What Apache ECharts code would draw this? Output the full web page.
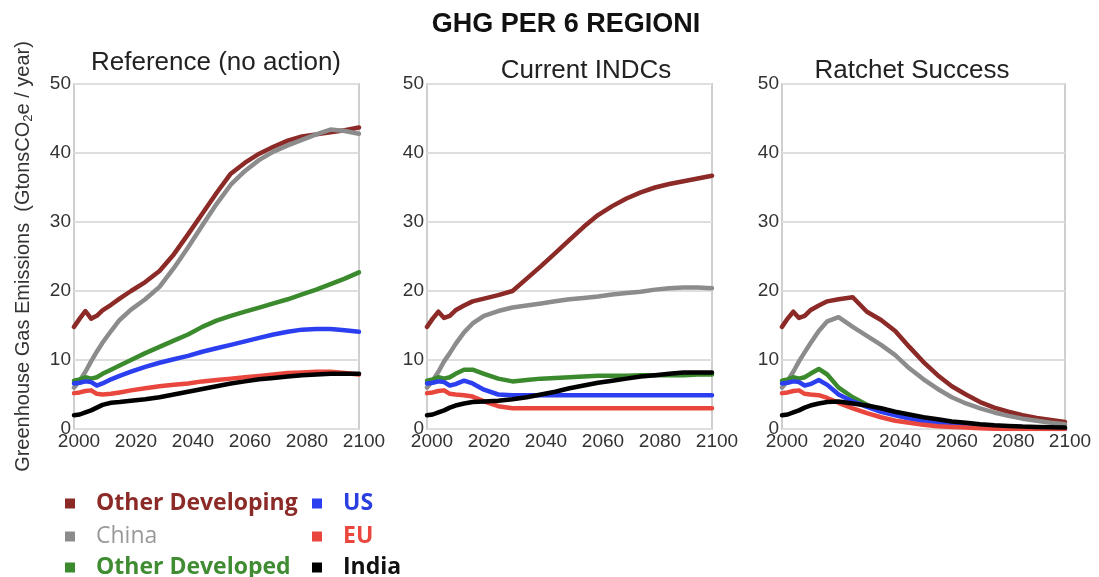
<!DOCTYPE html>
<html>
<head>
<meta charset="utf-8">
<title>GHG PER 6 REGIONI</title>
<script src="https://cdn.jsdelivr.net/npm/echarts@6/dist/echarts.min.js"></script>
<style>
  html, body { margin: 0; padding: 0; background: #fff; }
  #chart { width: 1099px; height: 577px; }
</style>
</head>
<body>
<div id="chart"></div>
<script>
// Sample years shared by every scenario (denser in the early years)
const years = [2000, 2002, 2004, 2006, 2008, 2010, 2013, 2016, 2020, 2025, 2030, 2035, 2040,
  2045, 2050, 2055, 2060, 2065, 2070, 2075, 2080, 2085, 2090, 2095, 2100];

const regions = ['Other Developing', 'China', 'Other Developed', 'US', 'EU', 'India'];
const panelTitles = ['Reference (no action)', 'Current INDCs', 'Ratchet Success'];
const xTicks = [2000, 2020, 2040, 2060, 2080, 2100];
const yTicks = [0, 10, 20, 30, 40, 50];

// Reference (no action), GtCO2e / year
const refOtherDeveloping = [14.8, 16.0, 17.1, 16.0, 16.4, 17.2, 18.0, 18.9, 20.0, 21.3, 22.9, 25.3, 28.2, 31.2, 34.2, 37.0, 38.6, 39.9, 40.9, 41.8, 42.4, 42.7, 43.0, 43.3, 43.7];
const refChina = [6.0, 7.0, 8.3, 9.8, 11.2, 12.5, 14.2, 15.8, 17.3, 18.8, 20.6, 23.3, 26.3, 29.5, 32.6, 35.4, 37.4, 39.0, 40.2, 41.1, 41.9, 42.7, 43.4, 43.2, 42.8];
const refOtherDeveloped = [7.0, 7.2, 7.5, 7.3, 7.5, 8.0, 8.6, 9.2, 10.0, 11.0, 11.9, 12.8, 13.7, 14.8, 15.7, 16.4, 17.0, 17.6, 18.2, 18.8, 19.5, 20.2, 21.0, 21.8, 22.7];
const refUS = [6.6, 6.7, 6.9, 6.8, 6.3, 6.6, 7.2, 7.7, 8.3, 9.0, 9.6, 10.1, 10.6, 11.2, 11.7, 12.2, 12.7, 13.2, 13.7, 14.1, 14.4, 14.5, 14.5, 14.3, 14.1];
const refEU = [5.2, 5.3, 5.5, 5.6, 5.1, 5.0, 5.1, 5.3, 5.6, 5.9, 6.2, 6.4, 6.6, 6.9, 7.1, 7.3, 7.5, 7.7, 7.9, 8.1, 8.2, 8.3, 8.3, 8.1, 7.9];
const refIndia = [2.0, 2.1, 2.4, 2.7, 3.1, 3.5, 3.8, 3.9, 4.1, 4.3, 4.6, 5.0, 5.4, 5.8, 6.2, 6.6, 6.9, 7.2, 7.4, 7.6, 7.8, 7.9, 8.0, 8.0, 8.0];

// Current INDCs
const indcOtherDeveloping = [14.8, 16.0, 17.0, 16.1, 16.4, 17.2, 17.9, 18.5, 18.9, 19.4, 20.0, 21.8, 23.6, 25.5, 27.4, 29.3, 31.0, 32.3, 33.4, 34.3, 35.0, 35.5, 35.9, 36.3, 36.7];
const indcChina = [6.0, 7.0, 8.3, 9.8, 11.0, 12.3, 14.0, 15.3, 16.4, 17.1, 17.6, 17.9, 18.2, 18.5, 18.8, 19.0, 19.2, 19.5, 19.7, 19.9, 20.2, 20.4, 20.5, 20.5, 20.4];
const indcOtherDeveloped = [7.0, 7.2, 7.5, 7.3, 7.5, 8.0, 8.6, 8.6, 8.0, 7.3, 6.9, 7.1, 7.3, 7.4, 7.5, 7.6, 7.7, 7.7, 7.7, 7.8, 7.8, 7.8, 7.8, 7.9, 7.9];
const indcUS = [6.6, 6.7, 6.9, 6.8, 6.3, 6.5, 7.0, 6.6, 5.7, 5.0, 4.9, 4.9, 4.9, 4.9, 4.9, 4.9, 4.9, 4.9, 4.9, 4.9, 4.9, 4.9, 4.9, 4.9, 4.9];
const indcEU = [5.2, 5.3, 5.5, 5.6, 5.1, 5.0, 4.9, 4.7, 4.0, 3.3, 3.0, 3.0, 3.0, 3.0, 3.0, 3.0, 3.0, 3.0, 3.0, 3.0, 3.0, 3.0, 3.0, 3.0, 3.0];
const indcIndia = [2.0, 2.1, 2.4, 2.7, 3.1, 3.4, 3.7, 3.9, 4.0, 4.1, 4.3, 4.6, 5.0, 5.4, 5.9, 6.3, 6.7, 7.0, 7.3, 7.6, 7.8, 8.0, 8.2, 8.2, 8.2];

// Ratchet Success
const ratchetOtherDeveloping = [14.8, 16.0, 17.0, 16.1, 16.4, 17.2, 17.9, 18.5, 18.8, 19.1, 17.0, 15.8, 14.2, 11.9, 9.7, 7.8, 6.2, 5.0, 3.9, 3.1, 2.5, 2.0, 1.6, 1.3, 1.0];
const ratchetChina = [6.0, 7.0, 8.3, 9.8, 11.1, 12.4, 14.2, 15.6, 16.2, 14.8, 13.5, 12.2, 10.7, 8.8, 7.2, 5.8, 4.6, 3.7, 3.0, 2.4, 1.9, 1.5, 1.2, 0.9, 0.7];
const ratchetOtherDeveloped = [7.0, 7.2, 7.5, 7.3, 7.5, 8.0, 8.7, 7.9, 6.0, 4.6, 3.5, 2.7, 2.1, 1.6, 1.2, 0.9, 0.7, 0.5, 0.4, 0.3, 0.25, 0.2, 0.15, 0.1, 0.1];
const ratchetUS = [6.6, 6.7, 6.9, 6.8, 6.3, 6.5, 7.1, 6.4, 5.0, 4.0, 3.2, 2.5, 2.0, 1.5, 1.1, 0.8, 0.6, 0.45, 0.35, 0.25, 0.2, 0.15, 0.1, 0.05, 0.0];
const ratchetEU = [5.2, 5.3, 5.5, 5.6, 5.1, 5.0, 4.9, 4.5, 3.8, 3.0, 2.3, 1.7, 1.2, 0.9, 0.6, 0.4, 0.3, 0.2, 0.1, 0.05, 0.0, 0.0, 0.0, 0.0, 0.0];
const ratchetIndia = [2.0, 2.1, 2.4, 2.7, 3.1, 3.4, 3.7, 3.9, 4.0, 3.7, 3.4, 3.0, 2.5, 2.1, 1.7, 1.4, 1.1, 0.9, 0.7, 0.55, 0.45, 0.35, 0.3, 0.25, 0.2];

const panels = [
  [refOtherDeveloping, refChina, refOtherDeveloped, refUS, refEU, refIndia],
  [indcOtherDeveloping, indcChina, indcOtherDeveloped, indcUS, indcEU, indcIndia],
  [ratchetOtherDeveloping, ratchetChina, ratchetOtherDeveloped, ratchetUS, ratchetEU, ratchetIndia]
];

// Styling
const lineColors = ['#8b2a26', '#8c8c8c', '#3b8a2e', '#2b3ff0', '#e9473d', '#000000'];
const legendTextColors = ['#8b2a26', '#9a9a9a', '#3f8c33', '#2b3fe0', '#e9473d', '#111111'];
const legendWeights = ['bold', 'normal', 'bold', 'bold', 'bold', 'bold'];
// legend slot for each region: [left, top]
const legendSlots = [[60, 487], [60, 520], [60, 551], [307, 487], [307, 520], [307, 551]];
const gridBoxes = [
  { left: 74, top: 84, width: 285, height: 345 },
  { left: 427, top: 84, width: 285, height: 345 },
  { left: 782, top: 84, width: 283, height: 345 }
];
const titleCenters = [211, 581, 907];
const axisFont = 'Liberation Sans, Arial, sans-serif';

const zip = vals => years.map((y, i) => [y, vals[i]]);

const grids = gridBoxes.map(b => Object.assign({
  show: true, borderColor: '#cfcfcf', borderWidth: 2, backgroundColor: '#fff', containLabel: false
}, b));

const xAxes = gridBoxes.map((b, i) => ({
  type: 'value', gridIndex: i,
  min: xTicks[0], max: xTicks[xTicks.length - 1], interval: xTicks[1] - xTicks[0],
  axisLine: { show: false }, axisTick: { show: false }, splitLine: { show: false },
  axisLabel: {
    color: '#333', fontFamily: axisFont, fontSize: 19, margin: 3,
    padding: [0, 0, 0, 10], formatter: v => String(v)
  }
}));

const yAxes = gridBoxes.map((b, i) => ({
  type: 'value', gridIndex: i,
  min: yTicks[0], max: yTicks[yTicks.length - 1], interval: yTicks[1] - yTicks[0],
  axisLine: { show: false }, axisTick: { show: false },
  splitLine: { show: true, lineStyle: { color: '#dedede', width: 2 } },
  axisLabel: { color: '#333', fontFamily: axisFont, fontSize: 19, margin: 3 },
  name: i === 0 ? '{a|Greenhouse Gas Emissions  (GtonsCO}{s|2}{a|e / year)}' : '',
  nameLocation: 'middle',
  nameGap: 39,
  nameTextStyle: {
    rich: {
      a: { fontFamily: axisFont, fontSize: 20, color: '#333', lineHeight: 24 },
      s: { fontFamily: axisFont, fontSize: 13, color: '#333', lineHeight: 24, verticalAlign: 'bottom', padding: [7, 0, 0, 0] }
    }
  }
}));

const series = [];
panels.forEach((panel, p) => {
  panel.forEach((vals, r) => {
    series.push({
      name: regions[r], type: 'line', xAxisIndex: p, yAxisIndex: p,
      data: zip(vals), showSymbol: false, smooth: false, silent: true,
      lineStyle: { color: lineColors[r], width: 4.5, join: 'round', cap: 'round' },
      itemStyle: { color: lineColors[r] },
      z: 2 + r
    });
  });
});

const titles = [{
  text: 'GHG PER 6 REGIONI', left: 561, top: 6, textAlign: 'center',
  textStyle: { fontFamily: axisFont, fontSize: 27, fontWeight: 'bold', color: '#111' }
}].concat(panelTitles.map((t, i) => ({
  text: t, left: titleCenters[i], top: i === 0 ? 45 : 53, textAlign: 'center',
  textStyle: { fontFamily: axisFont, fontSize: 26, fontWeight: 'normal', color: '#222' }
})));

// one legend component per region so the two columns line up independently
const legends = regions.map((name, r) => ({
  left: legendSlots[r][0], top: legendSlots[r][1],
  orient: 'horizontal', icon: 'rect', itemWidth: 10, itemHeight: 10,
  selectedMode: false,
  textStyle: { fontFamily: 'Open Sans, sans-serif', fontSize: 23, padding: [0, 0, 0, 16] },
  data: [{ name: name, textStyle: { color: legendTextColors[r], fontWeight: legendWeights[r] } }]
}));

const chart = echarts.init(document.getElementById('chart'), null, { renderer: 'canvas' });
chart.setOption({
  backgroundColor: '#fff',
  animation: false,
  title: titles,
  grid: grids,
  xAxis: xAxes,
  yAxis: yAxes,
  legend: legends,
  series: series
});
</script>
</body>
</html>
